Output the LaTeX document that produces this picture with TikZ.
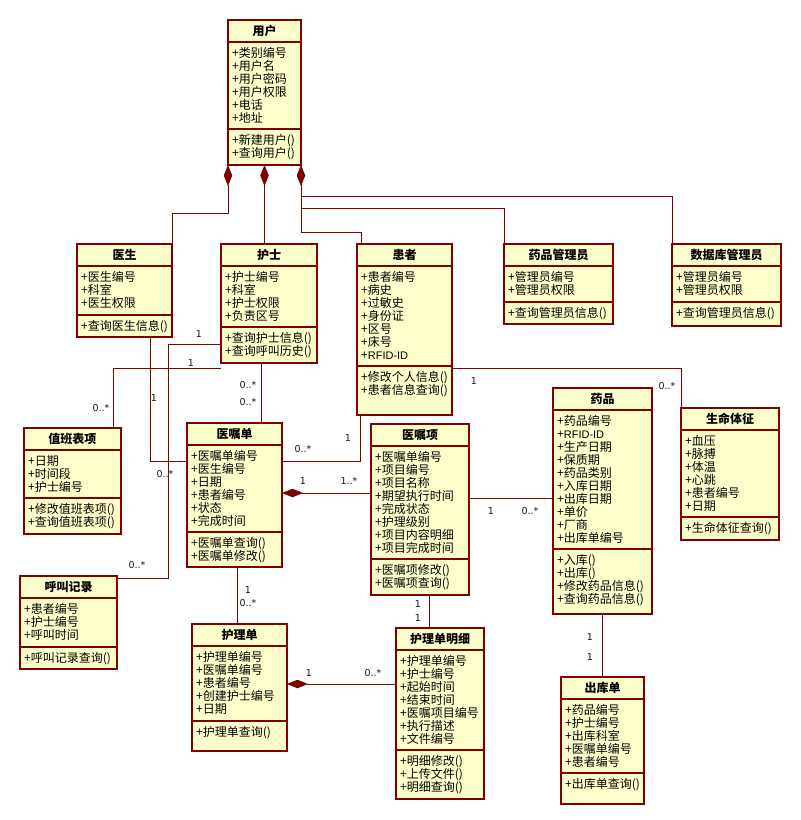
\documentclass[tikz,border=0pt]{standalone}
\usepackage{fontspec}
\setmainfont{Liberation Sans}
\newfontfamily\cjk{Noto Sans CJK SC}
\newfontfamily\multfont{DejaVu Sans}
\usetikzlibrary{arrows.meta}

\definecolor{umlred}{RGB}{128,0,0}
\definecolor{umlfill}{RGB}{255,255,204}
\definecolor{multcol}{RGB}{20,20,40}

\tikzset{
  classbox/.style={draw=umlred, fill=umlfill, line width=1.1pt, inner sep=0pt, outer sep=0pt, rectangle},
  classrule/.style={draw=umlred, line width=1.1pt},
  classtitle/.style={inner sep=0pt, font=\cjk\bfseries\fontsize{12}{14}\selectfont},
  classattr/.style={anchor=north west, inner sep=0pt, align=left, font=\cjk\fontsize{12}{13}\selectfont},
  assoc/.style={draw=umlred, line width=1pt},
  comp/.style={assoc, arrows={Diamond[length=21pt,width=8.5pt]-}},
  mult/.style={inner sep=0pt, text=multcol, font=\multfont\fontsize{9.5}{10}\selectfont}
}

% A class box: name, left, top, right, bottom, y of the attribute/operation rule,
% title, attributes, operations
\newcommand\umlclass[9]{%
  \node[classbox, anchor=north west, minimum width={#4-#2}, minimum height={#5-#3}] (#1) at (#2,#3) {};
  \draw[classrule] ([yshift=-22pt]#1.north west) -- ([yshift=-22pt]#1.north east);
  \draw[classrule] (#1.west |- 0,#6) -- (#1.east |- 0,#6);
  \node[classtitle] (#1-title) at ([yshift=-11pt]#1.north) {#7};
  \node[classattr] (#1-attr) at ([xshift=4pt,yshift=-27pt]#1.north west) {#8};
  \node[classattr] (#1-ops) at ([xshift=4pt,yshift=-5pt]#1.west |- 0,#6) {#9};
}
\newcommand\rfidtext{{\rmfamily\fontsize{11}{13}\selectfont RFID-ID}}

\begin{document}
\begin{tikzpicture}[x=1pt,y=-1pt]
\fill[white] (0,0) rectangle (801,820);
\useasboundingbox (0,0) rectangle (801,820);

% ---- classes ----
\umlclass{user}{228}{20}{301}{165}{129}{用户}{+类别编号\\+用户名\\+用户密码\\+用户权限\\+电话\\+地址}{+新建用户()\\+查询用户()}
\umlclass{doctor}{77}{244}{172}{337}{315}{医生}{+医生编号\\+科室\\+医生权限}{+查询医生信息()}
\umlclass{nurse}{221}{244}{317}{363}{327}{护士}{+护士编号\\+科室\\+护士权限\\+负责区号}{+查询护士信息()\\+查询呼叫历史()}
\umlclass{patient}{357}{244}{452}{415}{366}{患者}{+患者编号\\+病史\\+过敏史\\+身份证\\+区号\\+床号\\+\rfidtext}{+修改个人信息()\\+患者信息查询()}
\umlclass{drugadmin}{504}{244}{613}{324}{302}{药品管理员}{+管理员编号\\+管理员权限}{+查询管理员信息()}
\umlclass{dbadmin}{672}{244}{781}{326}{302}{数据库管理员}{+管理员编号\\+管理员权限}{+查询管理员信息()}
\umlclass{duty}{24}{428}{121}{534}{498}{值班表项}{+日期\\+时间段\\+护士编号}{+修改值班表项()\\+查询值班表项()}
\umlclass{order}{187}{423}{282}{567}{532}{医嘱单}{+医嘱单编号\\+医生编号\\+日期\\+患者编号\\+状态\\+完成时间}{+医嘱单查询()\\+医嘱单修改()}
\umlclass{item}{371}{424}{469}{595}{559}{医嘱项}{+医嘱单编号\\+项目编号\\+项目名称\\+期望执行时间\\+完成状态\\+护理级别\\+项目内容明细\\+项目完成时间}{+医嘱项修改()\\+医嘱项查询()}
\umlclass{drug}{553}{388}{652}{614}{549}{药品}{+药品编号\\+\rfidtext\\+生产日期\\+保质期\\+药品类别\\+入库日期\\+出库日期\\+单价\\+厂商\\+出库单编号}{+入库()\\+出库()\\+修改药品信息()\\+查询药品信息()}
\umlclass{vital}{681}{408}{779}{540}{517}{生命体征}{+血压\\+脉搏\\+体温\\+心跳\\+患者编号\\+日期}{+生命体征查询()}
\umlclass{callrec}{20}{576}{117}{669}{647}{呼叫记录}{+患者编号\\+护士编号\\+呼叫时间}{+呼叫记录查询()}
\umlclass{nursing}{192}{624}{287}{751}{721}{护理单}{+护理单编号\\+医嘱单编号\\+患者编号\\+创建护士编号\\+日期}{+护理单查询()}
\umlclass{detail}{396}{628}{484}{799}{750}{护理单明细}{+护理单编号\\+护士编号\\+起始时间\\+结束时间\\+医嘱项目编号\\+执行描述\\+文件编号}{+明细修改()\\+上传文件()\\+明细查询()}
\umlclass{outbound}{561}{677}{644}{804}{773}{出库单}{+药品编号\\+护士编号\\+出库科室\\+医嘱单编号\\+患者编号}{+出库单查询()}

% ---- compositions owned by the user class ----
\draw[comp] (user.south west) -- ++(0,48) -| (doctor.north east);
\draw[comp] (user.south) -- (user.south |- nurse.north);
\draw[comp] (user.south east) -- ++(0,31) -| (dbadmin.north west);
\draw[assoc] (user.south east) -- ++(0,43) -| (drugadmin.north west);
\draw[assoc] (user.south east) -- ++(0,67) -| ([xshift=4pt]patient.north west);

% ---- associations ----
\draw[assoc] (nurse.west |- 0,344) -| (168,578) -- (callrec.east |- 0,578);
\node[mult] (m-nc1) at (199,334) {1};
\node[mult] (m-nc2) at (137,565) {0..*};

\draw[assoc] ([yshift=-5pt]nurse.south west) -| ([xshift=-8pt]duty.north east);
\node[mult] (m-nd1) at (191,363) {1};
\node[mult] (m-nd2) at (101,408) {0..*};

\draw[assoc] ([xshift=-8pt]nurse.south) -- ([xshift=-8pt]nurse.south |- order.north);
\node[mult] (m-no1) at (248,385) {0..*};
\node[mult] (m-no2) at (248,402) {0..*};

\draw[assoc] ([xshift=26pt]doctor.south) |- (order.west |- 0,461);
\node[mult] (m-do1) at (154,398) {1};
\node[mult] (m-do2) at (165,474) {0..*};

\draw[assoc] ([xshift=3pt]patient.south west) |- (order.east |- 0,461);
\node[mult] (m-po1) at (348,438) {1};
\node[mult] (m-po2) at (303,449) {0..*};

\draw[assoc] (patient.east |- 0,368) -| (vital.north west);
\node[mult] (m-pv1) at (474,381) {1};
\node[mult] (m-pv2) at (667,386) {0..*};

\draw[comp] (order.east |- 0,493) -- (item.west |- 0,493);
\node[mult] (m-oi1) at (303,481) {1};
\node[mult] (m-oi2) at (349,481) {1..*};

\draw[assoc] (item.east |- 0,498) -- (drug.west |- 0,498);
\node[mult] (m-id1) at (491,511) {1};
\node[mult] (m-id2) at (530,511) {0..*};

\draw[assoc] (drug.south) -- (drug.south |- outbound.north);
\node[mult] (m-do3) at (590,637) {1};
\node[mult] (m-do4) at (590,657) {1};

\draw[assoc] ([xshift=9pt]item.south) -- ([xshift=9pt]item.south |- detail.north);
\node[mult] (m-it1) at (418,604) {1};
\node[mult] (m-it2) at (418,618) {1};

\draw[assoc] ([xshift=2.5pt]order.south) -- ([xshift=2.5pt]order.south |- nursing.north);
\node[mult] (m-on1) at (248,590) {1};
\node[mult] (m-on2) at (248,603) {0..*};

\draw[comp] (nursing.east |- 0,684) -- (detail.west |- 0,684);
\node[mult] (m-nt1) at (309,673) {1};
\node[mult] (m-nt2) at (373,673) {0..*};
\end{tikzpicture}
\end{document}
